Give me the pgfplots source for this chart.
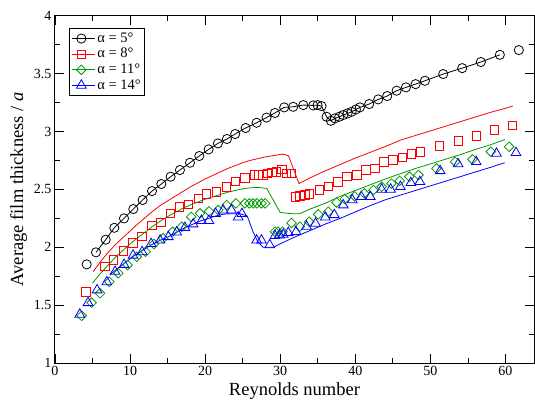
\documentclass[border=0pt]{standalone}
\usepackage{fontspec}
\setmainfont{Liberation Serif}
\usepackage{pgfplots}
\pgfplotsset{compat=1.18}
\definecolor{ggreen}{RGB}{0,150,0}
\begin{document}
\begin{tikzpicture}
\path[use as bounding box] (-55pt,-36pt) rectangle (480pt,363pt);
\begin{axis}[
  at={(0pt,0pt)}, anchor=south west,
  scale only axis, width=479pt, height=347.3pt,
  xmin=0, xmax=63.8, ymin=1, ymax=4,
  xtick={0,10,...,60}, ytick={1,1.5,...,4},
  minor x tick num=1, minor y tick num=1,
  tick align=inside,
  major tick length=9pt, minor tick length=5pt,
  axis line style={line width=1pt},
  every tick/.style={black, line width=0.8pt},
  /pgf/number format/assume math mode=true,
  tick label style={font=\fontsize{14}{16}\selectfont},
  label style={font=\fontsize{18.5}{20}\selectfont},
  xlabel={Reynolds number},
  ylabel={Average film thickness / \textit{a}},
  legend image code/.code={\draw[#1] plot coordinates {(0.34cm,0cm)}; \path (0cm,0cm) -- (0.82cm,0cm);},
  legend style={at={(0.029,0.965)}, anchor=north west, draw=black, line width=0.8pt,
    font=\fontsize{14.5}{15}\selectfont, row sep=0pt, inner xsep=2pt, inner ysep=2.5pt,
    nodes={inner xsep=2pt, inner ysep=0.8pt, text height=10.8pt, text depth=3.2pt}},
  legend cell align=left,
]
% simulation lines
\addplot[black, line width=0.8pt, forget plot] coordinates {
(5.46,1.956)(6.75,2.065)(7.90,2.168)(9.19,2.249)(10.43,2.33)(11.67,2.408)(12.92,2.485)
(14.16,2.546)(15.40,2.609)(16.64,2.667)(17.98,2.730)(19.22,2.788)(20.46,2.845)(21.70,2.897)
(22.9,2.935)(24.0,2.978)(25.39,3.03)(26.85,3.075)(28.18,3.12)(29.29,3.16)(30.53,3.208)
(31.73,3.213)(33.07,3.228)(34.4,3.225)(34.97,3.228)(35.5,3.219)(36.17,3.127)(36.75,3.092)
(37.28,3.113)(37.86,3.127)(38.39,3.142)(38.97,3.156)(39.5,3.17)(40.08,3.19)(40.61,3.208)
(41.85,3.237)(43.05,3.277)(44.25,3.306)(45.5,3.352)(46.74,3.381)(48.03,3.409)(49.27,3.438)
(51.71,3.496)(54.24,3.547)(56.72,3.6)(59.25,3.662)};
\addplot[red, line width=0.8pt, forget plot] coordinates {
(5.1,1.79)(6,1.87)(7,1.95)(8,2.02)(9,2.08)(10,2.14)(11,2.20)(12,2.255)(13,2.31)(14,2.36)
(15,2.40)(16,2.44)(17,2.48)(18,2.52)(19,2.555)(20,2.59)(21,2.62)(22,2.65)(23,2.68)(24,2.705)
(25,2.73)(26,2.75)(27,2.765)(28,2.78)(29,2.79)(30.3,2.805)(31.1,2.79)(32.5,2.55)(34,2.60)
(36,2.66)(38,2.715)(40,2.77)(42,2.82)(44,2.87)(46,2.925)(48,2.965)(50,3.005)(52,3.045)
(54,3.085)(56,3.125)(58,3.165)(60,3.20)(61,3.22)};
\addplot[ggreen, line width=0.8pt, forget plot] coordinates {
(5,1.69)(6,1.77)(7,1.84)(8,1.91)(9,1.97)(10,2.03)(11,2.08)(12,2.13)(13,2.18)(14,2.225)
(15,2.265)(16,2.30)(17,2.335)(18,2.365)(19,2.39)(20,2.415)(21,2.435)(22,2.455)(23,2.475)
(24,2.49)(25,2.505)(26,2.513)(27,2.517)(28.2,2.508)(30,2.30)(31.5,2.29)(32.6,2.29)(34,2.33)
(36,2.38)(38,2.44)(40,2.49)(42,2.54)(44,2.59)(46,2.635)(48,2.68)(50,2.72)(52,2.76)(54,2.80)
(56,2.845)(58,2.885)(59.9,2.93)};
\addplot[blue, line width=0.8pt, forget plot] coordinates {
(7.3,1.76)(8,1.80)(9.2,1.86)(10.4,1.92)(11.6,1.97)(12.8,2.02)(14,2.06)(15.1,2.09)(16.2,2.13)
(17.3,2.17)(18.4,2.20)(19.5,2.23)(20.5,2.25)(21.4,2.27)(22.4,2.285)(23.5,2.29)(24.6,2.29)
(25.6,2.27)(26.4,2.13)(27.0,2.05)(27.7,2.00)(29.1,2.00)(30,2.03)(32,2.09)(34,2.145)(36,2.20)
(38,2.25)(40,2.305)(42,2.36)(44,2.41)(46,2.45)(48,2.49)(50,2.53)(52,2.57)(54,2.61)(56,2.65)
(58,2.69)(59.9,2.73)};
% experimental markers
\addplot[only marks, black, mark=o, mark size=4.6pt, mark options={line width=0.8pt}] coordinates {
(4.22,1.852)(5.46,1.956)(6.75,2.065)(7.90,2.168)(9.19,2.249)(10.43,2.33)(11.67,2.408)(12.92,2.485)
(14.16,2.546)(15.40,2.609)(16.64,2.667)(17.98,2.730)(19.22,2.788)(20.46,2.845)(21.70,2.897)
(22.9,2.935)(24.0,2.978)(25.39,3.03)(26.85,3.075)(28.18,3.12)(29.29,3.16)(30.53,3.208)
(31.73,3.213)(33.07,3.228)(34.4,3.225)(34.97,3.228)(35.5,3.219)(36.17,3.127)(36.75,3.092)
(37.28,3.113)(37.86,3.127)(38.39,3.142)(38.97,3.156)(39.5,3.17)(40.08,3.19)(40.61,3.208)
(41.85,3.237)(43.05,3.277)(44.25,3.306)(45.5,3.352)(46.74,3.381)(48.03,3.409)(49.27,3.438)
(51.71,3.496)(54.24,3.547)(56.72,3.6)(59.25,3.662)(61.78,3.703)};
\addlegendentry{α = 5°}
\addplot[only marks, red, mark=square, mark size=4.2pt, mark options={line width=0.8pt}] coordinates {
(4.13,1.613)(6.66,1.836)(7.8,1.889)(9.1,1.968)(10.4,2.036)(11.6,2.094)(12.9,2.188)(14.1,2.216)
(15.4,2.293)(16.6,2.348)(17.8,2.368)(19.1,2.422)(20.2,2.459)(21.5,2.479)(22.8,2.522)(24.0,2.568)
(25.3,2.598)(26.54,2.626)(27.1,2.626)(27.7,2.626)(28.3,2.638)(28.9,2.645)(29.5,2.652)(30.2,2.67)
(30.85,2.638)(31.5,2.638)(32.0,2.436)(32.6,2.442)(33.3,2.451)(33.9,2.459)(35.2,2.494)(36.4,2.528)
(37.7,2.563)(38.9,2.612)(40.2,2.624)(41.4,2.667)(42.6,2.681)(43.8,2.738)(45.0,2.753)(46.3,2.776)
(47.5,2.805)(48.7,2.825)(51.2,2.877)(53.7,2.92)(56.1,2.96)(58.5,3.012)(60.9,3.055)};
\addlegendentry{α = 8°}
\addplot[only marks, ggreen, mark=square, mark size=3.4pt, mark options={rotate=45, line width=0.8pt}] coordinates {
(3.55,1.408)(4.88,1.521)(5.99,1.602)(7.24,1.702)(8.43,1.775)(9.68,1.846)(10.88,1.918)(12.07,1.961)
(13.18,2.028)(14.42,2.077)(15.67,2.134)(16.87,2.177)(18.15,2.262)(19.31,2.293)(20.5,2.31)
(21.75,2.321)(22.86,2.364)(24.1,2.379)(25.3,2.379)(25.9,2.379)(26.4,2.379)(26.9,2.379)(27.5,2.379)
(28.0,2.379)(29.3,2.134)(29.7,2.134)(30.3,2.134)(31.5,2.21)(32.6,2.177)(33.86,2.22)(35.06,2.284)
(36.4,2.307)(37.5,2.387)(38.6,2.416)(39.9,2.44)(41.2,2.465)(42.4,2.494)(43.5,2.523)(44.8,2.55)
(45.9,2.574)(47.2,2.609)(48.4,2.624)(50.8,2.68)(53.3,2.738)(55.6,2.759)(58.05,2.825)(60.5,2.868)};
\addlegendentry{α = 11°}
\addplot[only marks, blue, mark=triangle, mark size=5.6pt, mark options={line width=0.8pt}] coordinates {
(3.3,1.42)(4.4,1.52)(5.6,1.63)(6.9,1.70)(8.0,1.79)(9.2,1.85)(10.4,1.93)(11.6,1.96)(12.8,2.03)
(14.0,2.06)(15.1,2.09)(16.2,2.13)(17.3,2.17)(18.4,2.20)(19.5,2.23)(20.5,2.23)(21.4,2.29)(22.4,2.32)
(23.5,2.32)(24.4,2.26)(24.9,2.29)(26.85,2.06)(27.5,2.06)(28.6,2.02)(29.3,2.10)(29.9,2.105)
(30.4,2.11)(31.07,2.125)(32.1,2.134)(33.5,2.18)(34.7,2.205)(36.0,2.26)(37.2,2.28)(38.4,2.364)
(39.6,2.408)(40.8,2.436)(42.0,2.436)(43.5,2.5)(44.7,2.5)(46.0,2.523)(47.4,2.557)(48.6,2.566)
(51.3,2.66)(53.7,2.72)(56.1,2.738)(58.8,2.81)(61.4,2.816)};
\addlegendentry{α = 14°}
\end{axis}
\end{tikzpicture}
\end{document}
